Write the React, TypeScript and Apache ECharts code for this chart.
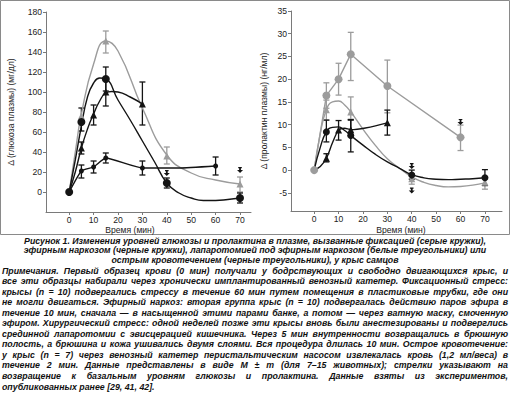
import React, { useEffect, useRef } from 'react';
import * as echarts from 'echarts';

// ---------- tick labels ----------
const X_TICKS = [0, 10, 20, 30, 40, 50, 60, 70];
const GLU_TICKS = [0, 20, 40, 60, 80, 100, 120, 140, 160, 180];
const PRL_TICKS = [-5, 0, 5, 10, 15, 20, 25, 30, 35];

// ---------- left panel: glucose (mg/dl) ----------
const gluGrayTriPts = [[5, 76], [15, 151], [40, 36], [70, 8]];
const gluGrayTriCurve = [[0, 0], [2.5, 40], [5, 78], [10, 128], [15, 151], [20, 141], [30, 84], [40, 37], [50, 19], [60, 12], [70, 8]];
const gluGrayTriErr = [[15, 139, 161], [40, 28, 45], [70, 0, 15]];

const gluBlackCircPts = [[0, 0], [5, 70], [15, 113], [40, 9], [70, -6]];
const gluBlackCircCurve = [[0, 0], [2.5, 32], [5, 66], [7.5, 95], [10, 109], [12.5, 114], [15, 113], [20, 92], [25, 72], [30, 51], [35, 30], [40, 9], [45, -1], [50, -6], [55, -8.5], [60, -8.5], [65, -7.5], [70, -6]];
const gluBlackCircErr = [[5, 61, 84], [15, 101, 125], [40, 4, 14], [70, -11, -1]];

const gluBlackTriPts = [[5, 44], [10, 77], [15, 100], [30, 88]];
const gluBlackTriCurve = [[0, 0], [2.5, 20], [5, 44], [7.5, 63], [10, 78], [12.5, 91], [15, 99], [17.5, 100.5], [20, 100], [25, 95], [30, 88]];
const gluBlackTriErr = [[5, 38, 50], [10, 67, 87], [15, 86, 114], [30, 67, 110]];

const gluDotPts = [[5, 21], [10, 25], [15, 34], [30, 24], [60, 26]];
const gluDotLine = [[0, 0], [5, 21], [10, 25], [15, 34], [30, 24], [45, 24], [60, 26]];
const gluDotErr = [[5, 14, 27], [10, 19, 31], [15, 29, 39], [30, 17, 31], [60, 17, 35]];

const gluArrows = [[40, 19], [70, 22]];

// ---------- right panel: prolactin (ng/ml) ----------
const prlGrayCircPts = [[0, 0], [5, 16.4], [10, 20], [15, 25.5], [30, 18.5], [60, 7.2]];
const prlGrayCircErr = [[5, 13.6, 19.2], [10, 16.5, 23.5], [15, 19.7, 30.3], [30, 12.6, 24.2], [60, 4.3, 9.9]];

const prlGrayTriPts = [[5, 13.3], [15, 12.8], [40, -1.9], [70, -2.7]];
const prlGrayTriCurve = [[0, 0], [2.5, 8], [5, 13.3], [7.5, 15], [10, 15.2], [12.5, 14.3], [15, 12.8], [20, 9], [25, 5.5], [30, 2.5], [35, 0.4], [40, -1.5], [45, -2.7], [50, -3.4], [55, -3.7], [60, -3.6], [65, -3.3], [70, -2.8]];
const prlGrayTriErr = [[5, 11, 15.4], [15, 11.2, 16.1], [40, -3.1, -0.8], [70, -4.2, -1.5]];

const prlBlackCircPts = [[5, 8.4], [15, 7.6], [40, -1.1], [70, -1.7]];
const prlBlackCircCurve = [[0, 0], [2.5, 5], [5, 8.4], [7.5, 9.4], [10, 9.5], [12.5, 8.7], [15, 7.6], [20, 5.5], [25, 3.5], [30, 1.8], [35, 0.4], [40, -1.0], [45, -1.7], [50, -2], [55, -2.1], [60, -2], [65, -1.9], [70, -1.7]];
const prlBlackCircErr = [[5, 6.2, 11], [15, 4, 11], [40, -2, 0], [70, -3.4, 0.1]];

const prlBlackTriPts = [[5, 2.6], [10, 8.8], [15, 8.9], [30, 10.4]];
const prlBlackTriCurve = [[0, 0], [2.5, 0.8], [5, 2.6], [7.5, 6], [10, 8.8], [12.5, 9.2], [15, 8.9], [30, 10.4]];
const prlBlackTriErr = [[5, 1.8, 3.6], [10, 6.6, 10.9], [15, 7.5, 11.1], [30, 7.7, 13.2]];

const prlArrows = [[40, 0.9], [40, -4.5], [60, 10.6]];

// ---------- texts ----------
const GLU_AXIS_NAME = 'Δ (глюкоза плазмы) (мг/дл)';
const PRL_AXIS_NAME = 'Δ (пролактин плазмы) (нг/мл)';
const X_AXIS_NAME = 'Время (мин)';

const TITLE_LINES = [
  'Рисунок 1. Изменения уровней глюкозы и пролактина в плазме, вызванные фиксацией (серые кружки),',
  'эфирным наркозом (черные кружки), лапаротомией под эфирным наркозом (белые треугольники) или',
  'острым кровотечением (черные треугольники), у крыс самцов',
];
const NOTE_LINES = [
  'Примечания. Первый образец крови (0 мин) получали у бодрствующих и свободно двигающихся крыс, и',
  'все эти образцы набирали через хронически имплантированный венозный катетер. Фиксационный стресс:',
  'крысы (n = 10) подвергались стрессу в течение 60 мин путем помещения в пластиковые трубки, где они',
  'не могли двигаться. Эфирный наркоз: вторая группа крыс (n = 10) подвергалась действию паров эфира в',
  'течение 10 мин, сначала — в насыщенной этими парами банке, а потом — через ватную маску, смоченную',
  'эфиром. Хирургический стресс: одной неделей позже эти крысы вновь были анестезированы и подверглись',
  'срединной лапаротомии с эвисцерацией кишечника. Через 5 мин внутренности возвращались в брюшную',
  'полость, а брюшина и кожа ушивались двумя слоями. Вся процедура длилась 10 мин. Острое кровотечение:',
  'у крыс (n = 7) через венозный катетер перистальтическим насосом извлекалась кровь (1,2 мл/веса) в',
  'течение 2 мин. Данные представлены в виде M ± m (для 7–15 животных); стрелки указывают на',
  'возвращение к базальным уровням глюкозы и пролактина. Данные взяты из экспериментов,',
  'опубликованных ранее [29, 41, 42].',
];

const GRAY = '#9c9c9c';
const BLACK = '#141414';
const AXIS = '#7a7a7a';
const FONT = '"Liberation Sans", Arial, sans-serif';
const CAP_FONT_SIZE = 8.8;
const AX_FONT_SIZE = 8.6;
const ARROW = 'path://M2,0 L8,0 L8,2 L6.5,2 L6.5,5 L10,5 L5,10 L0,5 L3.5,5 L3.5,2 L2,2 Z';

function errSeries(data: number[][], idx: number, color: string) {
  return {
    type: 'custom',
    xAxisIndex: idx,
    yAxisIndex: idx,
    z: 2,
    silent: true,
    data,
    renderItem: (_p: any, api: any) => {
      const x = api.value(0);
      const a = api.coord([x, api.value(2)]);
      const b = api.coord([x, api.value(1)]);
      const w = 3;
      const st = { stroke: color, lineWidth: 1.3 };
      return {
        type: 'group',
        children: [
          { type: 'line', shape: { x1: a[0], y1: a[1], x2: b[0], y2: b[1] }, style: st },
          { type: 'line', shape: { x1: a[0] - w, y1: a[1], x2: a[0] + w, y2: a[1] }, style: st },
          { type: 'line', shape: { x1: b[0] - w, y1: b[1], x2: b[0] + w, y2: b[1] }, style: st },
        ],
      };
    },
  };
}

function curve(data: number[][], idx: number, color: string, smooth: boolean | number) {
  return {
    type: 'line', xAxisIndex: idx, yAxisIndex: idx, data, smooth, showSymbol: false, symbol: 'none',
    lineStyle: { color, width: 1.4 }, z: 3, silent: true,
  };
}

function marks(data: number[][], idx: number, color: string, symbol: string, size: number) {
  return {
    type: 'scatter', xAxisIndex: idx, yAxisIndex: idx, data, symbol, symbolSize: size,
    itemStyle: { color, opacity: 1 }, z: 4, silent: true,
  };
}

function measure(text: string, font: string) {
  const c = document.createElement('canvas').getContext('2d')!;
  c.font = font;
  return c.measureText(text).width;
}

function captionElements() {
  const els: any[] = [];
  const cssFont = `italic bold ${CAP_FONT_SIZE}px ${FONT}`;
  const style = (text: string, align: string) => ({
    text, fill: '#111', fontStyle: 'italic', fontWeight: 'bold', fontSize: CAP_FONT_SIZE, fontFamily: FONT,
    textAlign: align, textVerticalAlign: 'middle',
  });
  TITLE_LINES.forEach((t, i) => {
    els.push({ type: 'text', x: 255, y: 240.5 + i * 9.6, style: style(t, 'center') });
  });
  const x0 = 2, x1 = 508;
  NOTE_LINES.forEach((t, i) => {
    const y = 270.5 + i * 10.55;
    if (i === NOTE_LINES.length - 1) {
      els.push({ type: 'text', x: x0, y, style: style(t, 'left') });
      return;
    }
    const words = t.split(' ');
    const widths = words.map((w) => measure(w, cssFont));
    const total = widths.reduce((s, v) => s + v, 0);
    const gap = (x1 - x0 - total) / (words.length - 1);
    let x = x0;
    words.forEach((w, k) => {
      els.push({ type: 'text', x, y, style: style(w, 'left') });
      x += widths[k] + gap;
    });
  });
  return els;
}

function axisX(idx: number, min: number, max: number) {
  return {
    type: 'value', gridIndex: idx, min, max,
    splitLine: { show: false },
    axisLine: { onZero: false, lineStyle: { color: AXIS, width: 1 } },
    axisTick: { customValues: X_TICKS, length: 3, lineStyle: { color: AXIS } },
    axisLabel: { customValues: X_TICKS, color: '#222', fontSize: AX_FONT_SIZE, fontFamily: FONT, margin: 3 },
  };
}

function axisY(idx: number, min: number, max: number, ticks: number[], name: string, gap: number) {
  return {
    type: 'value', gridIndex: idx, min, max,
    name, nameLocation: 'middle', nameGap: gap, nameRotate: 90,
    nameTextStyle: { color: '#222', fontSize: AX_FONT_SIZE, fontFamily: FONT },
    splitLine: { show: false },
    axisLine: { show: true, onZero: false, lineStyle: { color: AXIS, width: 1 } },
    axisTick: { show: true, customValues: ticks, length: 3, lineStyle: { color: AXIS } },
    axisLabel: { customValues: ticks, color: '#222', fontSize: AX_FONT_SIZE, fontFamily: FONT, margin: 4 },
  };
}

export default function App() {
  const ref = useRef<HTMLDivElement>(null);
  useEffect(() => {
    if (!ref.current) return;
    const chart = echarts.init(ref.current, undefined, { renderer: 'svg' });
    const xName = (x: number) => ({
      type: 'text', x, y: 229.5,
      style: { text: X_AXIS_NAME, fill: '#222', fontSize: AX_FONT_SIZE, fontFamily: FONT, textAlign: 'center', textVerticalAlign: 'middle' },
    });
    chart.setOption({
      animation: false,
      backgroundColor: '#fff',
      grid: [
        { left: 46, top: 12, width: 205, height: 200 },
        { left: 291, top: 11, width: 211, height: 200 },
      ],
      xAxis: [axisX(0, -9.5, 74.5), axisX(1, -9.5, 77)],
      yAxis: [
        axisY(0, -20, 180, GLU_TICKS, GLU_AXIS_NAME, 31),
        axisY(1, -9, 35, PRL_TICKS, PRL_AXIS_NAME, 23),
      ],
      graphic: [
        { type: 'rect', shape: { x: 0.5, y: 0.5, width: 509, height: 234 }, style: { fill: 'none', stroke: '#8a8a8a', lineWidth: 1 }, silent: true },
        xName(130),
        xName(401),
        ...captionElements(),
      ],
      series: [
        // left panel
        errSeries(gluGrayTriErr, 0, GRAY),
        errSeries(gluBlackCircErr, 0, BLACK),
        errSeries(gluBlackTriErr, 0, BLACK),
        errSeries(gluDotErr, 0, BLACK),
        curve(gluGrayTriCurve, 0, GRAY, 0.5),
        curve(gluBlackCircCurve, 0, BLACK, 0.5),
        curve(gluBlackTriCurve, 0, BLACK, 0.5),
        curve(gluDotLine, 0, BLACK, 0.15),
        marks(gluGrayTriPts, 0, GRAY, 'triangle', 7),
        marks(gluBlackTriPts, 0, BLACK, 'triangle', 7),
        marks(gluDotPts, 0, BLACK, 'circle', 5),
        marks(gluBlackCircPts, 0, BLACK, 'circle', 8),
        marks(gluArrows, 0, BLACK, ARROW, 6),
        // right panel
        errSeries(prlGrayCircErr, 1, GRAY),
        errSeries(prlGrayTriErr, 1, GRAY),
        errSeries(prlBlackCircErr, 1, BLACK),
        errSeries(prlBlackTriErr, 1, BLACK),
        curve(prlGrayCircPts, 1, GRAY, false),
        curve(prlGrayTriCurve, 1, GRAY, 0.5),
        curve(prlBlackCircCurve, 1, BLACK, 0.5),
        curve(prlBlackTriCurve, 1, BLACK, 0.3),
        marks(prlGrayCircPts, 1, GRAY, 'circle', 8),
        marks(prlGrayTriPts, 1, GRAY, 'triangle', 7),
        marks(prlBlackTriPts, 1, BLACK, 'triangle', 7),
        marks(prlBlackCircPts, 1, BLACK, 'circle', 7),
        marks(prlArrows, 1, BLACK, ARROW, 6),
      ],
    });
    return () => chart.dispose();
  }, []);
  return <div ref={ref} style={{ position: 'absolute', left: 0, top: 0, width: 510, height: 394 }} />;
}
